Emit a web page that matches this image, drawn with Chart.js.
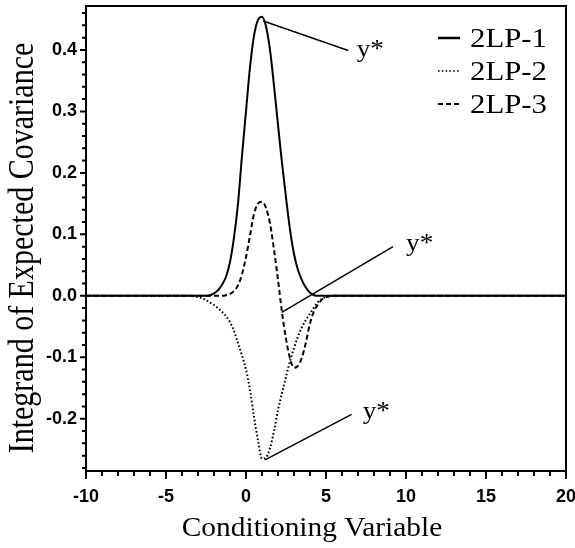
<!DOCTYPE html>
<html>
<head>
<meta charset="utf-8">
<script src="https://cdn.jsdelivr.net/npm/chart.js@4.4.1/dist/chart.umd.min.js"></script>
<style>
  html, body { margin: 0; padding: 0; background: #fff; }
  #wrap { width: 575px; height: 548px; }
</style>
</head>
<body>
<div id="wrap"><canvas id="chart" width="575" height="548"></canvas></div>
<script>
// values
const xs = [-10, -4, -3.5, -3, -2.75, -2.5, -2.25, -2, -1.75, -1.5, -1.25, -1,
    -0.75, -0.5, -0.25, 0, 0.25, 0.5, 0.75, 1, 1.25, 1.5, 1.75, 2, 2.25, 2.5,
    2.75, 3, 3.25, 3.5, 3.75, 4, 4.25, 4.5, 4.75, 5, 5.5, 6, 20];
const lp1 = [0, 0, 0, 0, 0, 0, 0.001, 0.004, 0.009, 0.018, 0.031, 0.055,
    0.095, 0.15, 0.228, 0.3, 0.372, 0.423, 0.449, 0.454, 0.438, 0.4, 0.342, 0.278, 0.216, 0.16,
    0.108, 0.068, 0.042, 0.025, 0.013, 0.005, 0.001, 0, 0, 0, 0, 0, 0];
const lp2 = [0, 0, 0, -0.002, -0.004, -0.007, -0.011, -0.015, -0.02, -0.026, -0.033, -0.043,
    -0.057, -0.077, -0.097, -0.12, -0.153, -0.197, -0.235, -0.265, -0.263, -0.248, -0.22, -0.186, -0.158, -0.132,
    -0.106, -0.085, -0.066, -0.051, -0.039, -0.029, -0.019, -0.01, -0.005, -0.002, 0, 0, 0];
const lp3 = [0, 0, 0, 0, 0, 0, 0, 0, 0, 0, 0.001, 0.003,
    0.008, 0.017, 0.035, 0.063, 0.098, 0.133, 0.15, 0.153, 0.143, 0.118, 0.075, 0.026, -0.027, -0.07,
    -0.102, -0.117, -0.114, -0.1, -0.075, -0.045, -0.025, -0.014, -0.006, -0.002, 0, 0, 0];
const seriesNames = ['2LP-1', '2LP-2', '2LP-3'];

const xTicks = [-10, -9, -8, -7, -6, -5, -4, -3, -2, -1, 0, 1, 2, 3, 4, 5, 6, 7, 8, 9,
    10, 11, 12, 13, 14, 15, 16, 17, 18, 19, 20];
const yTicks = [-0.28, -0.26, -0.24, -0.22, -0.2, -0.18, -0.16, -0.14, -0.12, -0.1,
    -0.08, -0.06, -0.04, -0.02, 0, 0.02, 0.04, 0.06, 0.08, 0.1, 0.12, 0.14, 0.16, 0.18,
    0.2, 0.22, 0.24, 0.26, 0.28, 0.3, 0.32, 0.34, 0.36, 0.38, 0.4, 0.42, 0.44, 0.46];

// "y*" pointers: start on a curve, end next to the label
const starStartX = [1.08, 2.23, 1.19];
const starStartY = [0.447, -0.027, -0.267];
const starEndX = [6.39, 9.19, 6.6];
const starEndY = [0.399, 0.08, -0.193];
const starTextX = [6.92, 10.0, 7.29];
const starTextY = [0.389, 0.073, -0.2];

const SERIF = '"Liberation Serif", "Times New Roman", serif';

function isMajorY(v) { return Math.abs(v * 10 - Math.round(v * 10)) < 1e-6; }

// text in the figure looks a bit wide, so stretch it a little
function wideText(ctx, text, x, y, size, sx, align, vertical) {
  ctx.save();
  ctx.translate(x, y);
  if (vertical) {
    ctx.rotate(-Math.PI / 2);
    ctx.scale(1, sx);
  } else {
    ctx.scale(sx, 1);
  }
  ctx.font = size + 'px ' + SERIF;
  ctx.fillStyle = '#000';
  ctx.textAlign = align;
  ctx.textBaseline = 'alphabetic';
  ctx.fillText(text, 0, 0);
  ctx.restore();
}

const extras = {
  id: 'extras',
  afterDraw(chart) {
    const ctx = chart.ctx;
    const a = chart.chartArea;
    const xs_ = chart.scales.x, ys_ = chart.scales.y;

    // frame
    ctx.save();
    ctx.strokeStyle = '#000';
    ctx.lineWidth = 2;
    ctx.strokeRect(a.left, a.top, a.right - a.left, a.bottom - a.top);

    // tick marks, long on labelled values
    ctx.beginPath();
    xs_.ticks.forEach(t => {
      const px = xs_.getPixelForValue(t.value);
      const len = t.value % 5 === 0 ? 8 : 5;
      ctx.moveTo(px, a.bottom);
      ctx.lineTo(px, a.bottom + len);
    });
    ys_.ticks.forEach(t => {
      const py = ys_.getPixelForValue(t.value);
      const len = isMajorY(t.value) ? 6 : 4;
      ctx.moveTo(a.left, py);
      ctx.lineTo(a.left - len, py);
    });
    ctx.stroke();
    ctx.restore();

    // axis titles
    wideText(ctx, 'Conditioning Variable', 312, 536, 28, 1.05, 'center', false);
    wideText(ctx, 'Integrand of Expected Covariance', 33, 248, 30, 1.2, 'center', true);

    // y* labels
    for (let i = 0; i < starTextX.length; i++) {
      wideText(ctx, 'y*', xs_.getPixelForValue(starTextX[i]), ys_.getPixelForValue(starTextY[i]),
        26, 1.05, 'left', false);
    }

    // legend inside the plot, top right
    const rows = [47, 80, 113];
    chart.data.datasets.slice(0, 3).forEach((ds, i) => {
      ctx.save();
      ctx.strokeStyle = ds.borderColor;
      ctx.lineWidth = ds.legendWidth;
      ctx.setLineDash(ds.borderDash || []);
      ctx.beginPath();
      ctx.moveTo(438, rows[i] - 9);
      ctx.lineTo(460, rows[i] - 9);
      ctx.stroke();
      ctx.restore();
      wideText(ctx, ds.label, 470, rows[i], 28, 1.1, 'left', false);
    });
  }
};

const pts = ys => xs.map((x, i) => ({ x: x, y: ys[i] }));

const datasets = [
  { label: seriesNames[0], data: pts(lp1), borderColor: '#000', borderWidth: 2, legendWidth: 2.5 },
  { label: seriesNames[1], data: pts(lp2), borderColor: '#000', borderWidth: 2,
    borderDash: [1.6, 2.2], legendWidth: 1.4 },
  { label: seriesNames[2], data: pts(lp3), borderColor: '#000', borderWidth: 2,
    borderDash: [5, 3], legendWidth: 1.8 }
];
datasets.forEach(d => {
  d.pointRadius = 0;
  d.fill = false;
  d.cubicInterpolationMode = 'monotone';
});
for (let i = 0; i < starStartX.length; i++) {
  datasets.push({
    label: 'y*',
    data: [{ x: starStartX[i], y: starStartY[i] }, { x: starEndX[i], y: starEndY[i] }],
    borderColor: '#000', borderWidth: 1.5, pointRadius: 0, tension: 0
  });
}

Chart.defaults.font.family = '"Liberation Sans", Arial, sans-serif';
Chart.defaults.font.size = 18;
Chart.defaults.font.weight = 'bold';
Chart.defaults.color = '#000';

new Chart(document.getElementById('chart').getContext('2d'), {
  type: 'line',
  data: { datasets: datasets },
  options: {
    responsive: false,
    animation: false,
    events: [],
    layout: { padding: { top: 6, right: 9, left: 0, bottom: 0 } },
    plugins: { legend: { display: false }, tooltip: { enabled: false } },
    scales: {
      x: {
        type: 'linear',
        min: -10,
        max: 20,
        afterBuildTicks: s => { s.ticks = xTicks.map(v => ({ value: v })); },
        afterFit: s => { s.height = 77; s.paddingRight = 9; s.paddingLeft = 0; },
        ticks: {
          autoSkip: false,
          maxRotation: 0,
          padding: 7,
          callback: v => (v % 5 === 0 ? String(v) : '')
        },
        grid: { drawOnChartArea: false, tickLength: 8, tickColor: 'rgba(0,0,0,0)' },
        border: { display: false }
      },
      y: {
        type: 'linear',
        min: -0.285,
        max: 0.4715,
        afterBuildTicks: s => { s.ticks = yTicks.map(v => ({ value: v })); },
        afterFit: s => { s.width = 86; s.paddingTop = 0; s.paddingBottom = 0; },
        ticks: {
          autoSkip: false,
          padding: 3,
          callback: v => (isMajorY(v) ? v.toFixed(1) : '')
        },
        grid: { drawOnChartArea: false, tickLength: 6, tickColor: 'rgba(0,0,0,0)' },
        border: { display: false }
      }
    }
  },
  plugins: [extras]
});
</script>
</body>
</html>
